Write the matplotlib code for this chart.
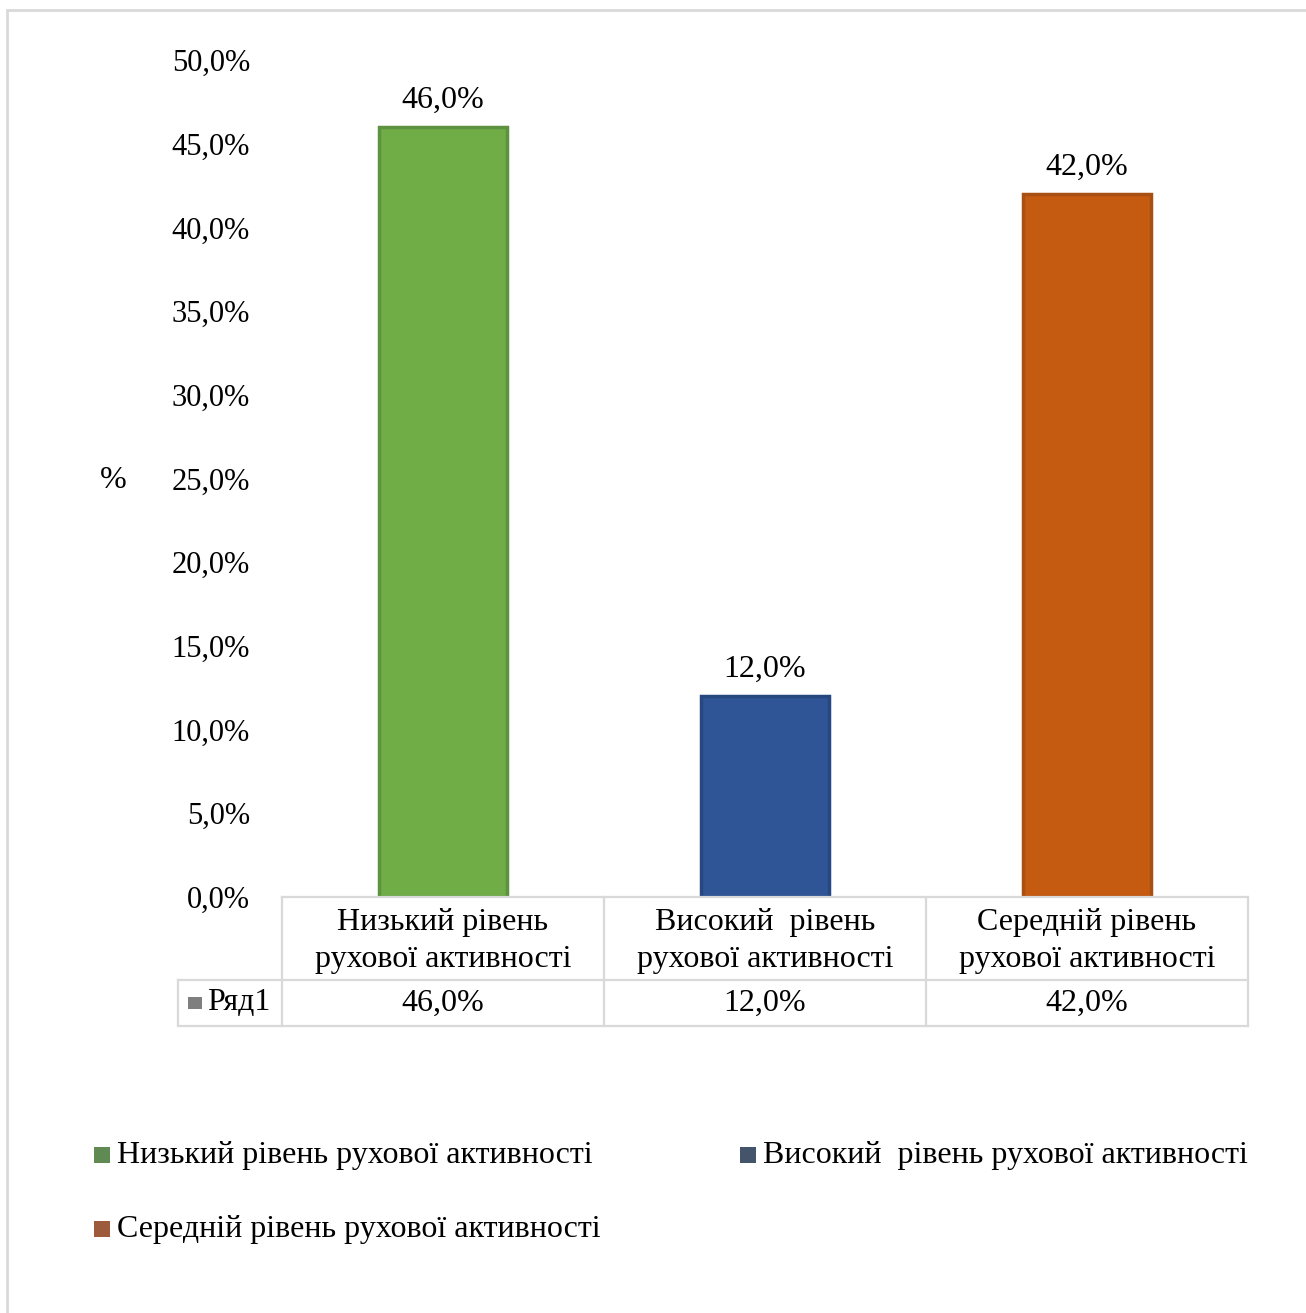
import matplotlib
matplotlib.use('Agg')
import matplotlib.pyplot as plt
import matplotlib.transforms as mtransforms
from matplotlib.patches import Rectangle

# Рівні рухової активності
categories = ['Низький рівень\nрухової активності',
              'Високий  рівень\nрухової активності',
              'Середній рівень\nрухової активності']
legend_names = ['Низький рівень рухової активності',
                'Високий  рівень рухової активності',
                'Середній рівень рухової активності']
values = [46.0, 12.0, 42.0]
series_name = 'Ряд1'
bar_colors = ['#70AD47', '#2F5597', '#C55A11']
edge_colors = ['#5E9140', '#27477F', '#A84F14']
legend_colors = ['#5F8B52', '#44546A', '#9E5B3C']

plt.rcParams['font.family'] = ['Liberation Serif', 'DejaVu Serif']
FS = 23
W, H = 1306, 1313


def fx(px):
    return px / W


def fy(py):
    return 1 - py / H


def fmt(v):
    return '{:.1f}%'.format(v).replace('.', ',')


fig = plt.figure(figsize=(W / 100, H / 100), dpi=100)

# outer frame
fig.patches.append(Rectangle((fx(7), fy(1320)), fx(1310 - 7), fy(10) - fy(1320),
                             transform=fig.transFigure, fill=False,
                             edgecolor='#D9D9D9', linewidth=2))

ax = fig.add_axes([fx(282), fy(897), fx(1248 - 282), fy(60) - fy(897)])
x = list(range(len(values)))
ax.bar(x, values, width=0.395, color=bar_colors, edgecolor=edge_colors, linewidth=2.5)
for xi, v in zip(x, values):
    ax.annotate(fmt(v), (xi, v), xytext=(0, 9), textcoords='offset points',
                ha='center', va='bottom', fontsize=FS)

ax.set_xlim(-0.5, len(values) - 0.5)
ax.set_ylim(0, 50)
yt = [i * 5 for i in range(11)]
ax.set_yticks(yt)
ax.set_yticklabels([fmt(t) for t in yt], fontsize=22)
ax.tick_params(axis='y', length=0, pad=23)
ax.set_xticks([])
for s in ax.spines.values():
    s.set_visible(False)
ax.set_ylabel('%', fontsize=FS, rotation=0, labelpad=0)
ax.yaxis.set_label_coords(-0.175, 0.48)

# data table under the axis
tr = mtransforms.blended_transform_factory(ax.transData, ax.transAxes)
ax_h = fy(60) - fy(897)
r1 = -(980 - 897) / H / ax_h
r2 = -(1026 - 897) / H / ax_h
left_x = -0.5 - (282 - 178) / ((1248 - 282) / len(values))
lc = '#D9D9D9'
lw = 1.6
n = len(values)
ax.plot([-0.5, n - 0.5], [0, 0], color=lc, lw=lw, transform=tr, clip_on=False)
ax.plot([left_x, n - 0.5], [r1, r1], color=lc, lw=lw, transform=tr, clip_on=False)
ax.plot([left_x, n - 0.5], [r2, r2], color=lc, lw=lw, transform=tr, clip_on=False)
ax.plot([left_x, left_x], [r1, r2], color=lc, lw=lw, transform=tr, clip_on=False)
for i in range(n + 1):
    ax.plot([i - 0.5, i - 0.5], [0, r2], color=lc, lw=lw, transform=tr, clip_on=False)
cat_y = -(941 - 897) / H / ax_h
for xi, cat, v in zip(x, categories, values):
    ax.text(xi, cat_y, cat, ha='center', va='center', fontsize=FS,
            linespacing=1.4, transform=tr)
    ax.text(xi, (r1 + r2) / 2, fmt(v), ha='center', va='center', fontsize=FS,
            transform=tr)
ax.text(left_x + 0.09, (r1 + r2) / 2, series_name, ha='left', va='center',
        fontsize=FS, transform=tr)
ax.add_patch(Rectangle((left_x + 0.03, (r1 + r2) / 2 - 0.007), 0.045, 0.014,
                       transform=tr, clip_on=False, facecolor='#7F7F7F',
                       edgecolor='none'))

# legend
leg_pos = [(94, 1155), (740, 1155), (94, 1229)]
for (lx, ly), name, c in zip(leg_pos, legend_names, legend_colors):
    fig.patches.append(Rectangle((fx(lx), fy(ly + 8)), fx(16), fy(ly - 8) - fy(ly + 8),
                                 transform=fig.transFigure, facecolor=c,
                                 edgecolor='none'))
    fig.text(fx(lx + 23), fy(ly), name, ha='left', va='center', fontsize=FS)

fig.savefig('out.png', dpi=100)
